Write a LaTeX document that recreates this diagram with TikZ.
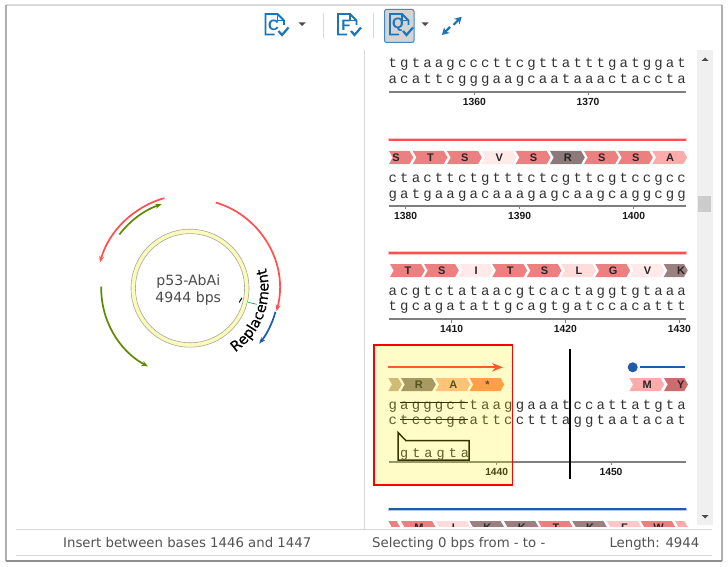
\documentclass[tikz,border=0pt]{standalone}
\usepackage{fontspec}
\setmainfont{DejaVu Sans}
\newfontfamily\dnafont[LetterSpace=22.5]{Liberation Mono}
\newfontfamily\dnafontB[LetterSpace=30]{Liberation Mono}
\newfontfamily\lblfont[BoldFont=Liberation Sans Bold]{Liberation Sans}
\newfontfamily\replfont[FakeBold=0.4]{DejaVu Sans}
\usetikzlibrary{arrows.meta,decorations.text}
\definecolor{icoblue}{HTML}{1B75BB}
\definecolor{rulegray}{HTML}{7F7F7F}
\definecolor{featred}{HTML}{FF4F4F}
\definecolor{featblue}{HTML}{1F5CA8}
\definecolor{featgreen}{HTML}{5F8A00}
\definecolor{featorange}{HTML}{FF5A28}
\definecolor{ringfill}{HTML}{FBFBB8}
\definecolor{aS}{HTML}{EC8080}
\definecolor{aV}{HTML}{FFE9E9}
\definecolor{aR}{HTML}{8C7A7A}
\definecolor{aA}{HTML}{FFABAB}
\definecolor{aL}{HTML}{FFDCDC}
\definecolor{aK}{HTML}{9C7F7F}
\definecolor{aF}{HTML}{FFC8C8}
\definecolor{aRy}{HTML}{90817D}
\definecolor{aAy}{HTML}{FFB79A}
\definecolor{aSt}{HTML}{FF8A5C}
\definecolor{aFi}{HTML}{C4AC95}
\definecolor{frametop}{HTML}{DADADA}
\definecolor{framedark}{HTML}{8E8E8E}
\definecolor{frameside}{HTML}{B0B0B0}
\definecolor{lineg}{HTML}{D8D8D8}
\tikzset{
  seqtext/.style={anchor=base west,inner sep=0pt,text=black!80,font=\dnafont\fontsize{14pt}{14pt}\selectfont},
  ticklbl/.style={inner sep=0pt,text=black!90,font=\lblfont\bfseries\fontsize{10.3pt}{10.3pt}\selectfont},
  aatext/.style={inner sep=0pt,text=black!85,font=\lblfont\bfseries\fontsize{11pt}{11pt}\selectfont},
  ruler/.style={draw=rulegray,line width=1.6pt},
  stat/.style={anchor=base west,inner sep=0pt,text=black!68,font=\fontsize{13.3pt}{13.3pt}\selectfont},
  feat/.style={line width=1.7pt,-{Stealth[length=6.5pt,width=5pt]}},
  icoline/.style={draw=icoblue,line width=1.8pt,line join=miter},
}
% x, top y, width, colour, letter
\newcommand\chev[5]{%
  \fill[#4] (#1,#2) -- ++(#3-3.7,0) -- ++(3.7,6.5) -- ++(-3.7,6.5) -- ++(-#3+3.7,0) -- ++(3.7,-6.5) -- cycle;
  \node[aatext] at (#1+#3/2+0.5,#2+6.7) {#5};}
\newcommand\rulerrow[1]{\draw[ruler] (389,#1) -- (685.5,#1);}
\newcommand\rtick[3]{\draw[rulegray,line width=0.8pt] (#1,#2) -- (#1,#2+3.5);
  \node[ticklbl] at (#1,#2+10) {#3};}
\newcommand\feature[2]{\draw[#1!35,line width=3.6pt] (388,#2) -- (686.5,#2);
  \draw[#1,line width=2pt] (389,#2) -- (685.5,#2);}
\newcommand\docicon[2]{%
  \draw[icoline] (#1+9,34.6) -- (#1,34.6) -- (#1,14) -- (#1+12,14) -- (#1+18.5,20.5) -- (#1+18.5,25);
  \draw[icoline,line width=1.2pt] (#1+12,14) -- (#1+12,20.5) -- (#1+18.5,20.5);
  \draw[icoline,line width=2.2pt] (#1+13,31) -- (#1+16.5,35) -- (#1+23,27.5);
  \node[inner sep=0pt,text=icoblue,font=\lblfont\bfseries\fontsize{15pt}{15pt}\selectfont] at (#1+8,25) {#2};}
\newcommand\caret[1]{\fill[black!70] (#1-3.5,22.5) -- (#1+3.5,22.5) -- (#1,26) -- cycle;}
\begin{document}
\begin{tikzpicture}[x=1pt,y=-1pt]
\useasboundingbox (0,0) rectangle (728,567);
\fill[white] (0,0) rectangle (728,567);
% window frame
\draw[frametop,line width=2pt] (6,5) -- (721.5,5);
\draw[frameside,line width=2pt] (6,5) -- (6,560.5);
\draw[frameside,line width=2pt] (721.5,5) -- (721.5,560.5);
\draw[framedark,line width=2pt] (6,560.8) -- (721.5,560.8);
\draw[lineg,line width=0.8pt] (16,529.3) -- (711.7,529.3);
\draw[lineg,line width=0.8pt] (16,555.3) -- (711.7,555.3);
\draw[lineg,line width=0.8pt] (364.3,50) -- (364.3,529.3);
% toolbar
\docicon{265.5}{C}
\caret{302}
\draw[lineg,line width=1pt] (323.3,13) -- (323.3,38);
\docicon{338}{F}
\draw[lineg,line width=1pt] (373.3,13) -- (373.3,38);
\draw[draw=icoblue!85,fill=black!17,line width=1pt,rounded corners=2pt] (384.5,9.5) rectangle (414,42.5);
\docicon{390}{Q}
\caret{425}
\draw[draw=icoblue,line width=2.2pt,-{Stealth[length=7pt,width=8pt]}] (453.5,24.8) -- (461.7,16.8);
\draw[draw=icoblue,line width=2.2pt,-{Stealth[length=7pt,width=8pt]}] (450,27) -- (442,35);
% scrollbar
\fill[black!6] (696.7,50) rectangle (712.7,525);
\fill[black!20] (698.3,195.7) rectangle (711,211.7);
\fill[black!70] (701.5,61) -- (708.5,61) -- (705,57.5) -- cycle;
\fill[black!70] (701.5,515) -- (708.5,515) -- (705,518.5) -- cycle;
% plasmid
\coordinate (pc) at (190,288.2);
\draw[black!35,fill=ringfill,line width=0.6pt] (pc) circle[radius=59pt];
\draw[black!35,fill=white,line width=0.6pt] (pc) circle[radius=54.6pt];
\node[inner sep=0pt,text=black!70,font=\fontsize{14.1pt}{14.1pt}\selectfont] (pname) at (188.3,281.5) {p53-AbAi};
\node[inner sep=0pt,text=black!70,font=\fontsize{14.1pt}{14.1pt}\selectfont] (psize) at (188.3,299) {4944 bps};
\draw[featred,feat] (pc) ++(73.2:89.5pt) arc[start angle=73.2,end angle=-14.9,radius=89.5pt];
\draw[featblue,feat] (pc) ++(-15.5:88.7pt) arc[start angle=-15.5,end angle=-38.7,radius=88.7pt];
\draw[featred,feat] (pc) ++(105.9:93.7pt) arc[start angle=105.9,end angle=164,radius=93.7pt];
\draw[featgreen,feat] (pc) ++(142.8:88.7pt) arc[start angle=142.8,end angle=108.6,radius=88.7pt];
\draw[featgreen,feat] (pc) ++(179:88.8pt) arc[start angle=179,end angle=241.8,radius=88.8pt];
\draw[black,line width=1pt] (239.3,302.4) -- (241.9,297.8);
\draw[teal!70!green,line width=0.7pt] (248.3,302.3) -- (256.7,304.3);
\path[decorate,decoration={text along path,text align=center,text={|\replfont\fontsize{14.4pt}{14.4pt}\selectfont|Replacement}}]
  (pc) ++(-76:78.5pt) arc[start angle=-76,end angle=36,radius=78.5pt];
% row 1
\node[seqtext] (r1a) at (388.5,67.7) {tgtaagcccttcgttatttgatggat};
\node[seqtext] (r1b) at (388.5,83.2) {acattcgggaagcaataaactaccta};
\rulerrow{92}
\rtick{474.3}{92}{1360}
\rtick{588}{92}{1370}
% row 2
\feature{featred}{139.7}
\chev{389}{151}{24.3}{aS}{}
\node[aatext] at (396,157.7) {S};
\chev{412.7}{151}{34.8}{aS}{T}
\chev{447}{151}{34.8}{aS}{S}
\chev{481.4}{151}{34.8}{aV}{V}
\chev{515.7}{151}{34.8}{aS}{S}
\chev{550}{151}{34.8}{aR}{R}
\chev{584}{151}{34.8}{aS}{S}
\chev{618}{151}{34.8}{aS}{S}
\chev{652.3}{151}{34.8}{aA}{A}
\node[seqtext] (r2a) at (388.5,182.3) {ctacttctgtttctcgttcgtccgcc};
\node[seqtext] (r2b) at (388.5,198) {gatgaagacaaagagcaagcaggcgg};
\rulerrow{205.7}
\rtick{405.7}{205.7}{1380}
\rtick{519.7}{205.7}{1390}
\rtick{633.7}{205.7}{1400}
% row 3
\feature{featred}{253}
\chev{390}{264}{34.8}{aS}{T}
\chev{424}{264}{34.8}{aS}{S}
\chev{458.3}{264}{34.8}{aV}{I}
\chev{492.3}{264}{34.8}{aS}{T}
\chev{526.7}{264}{34.8}{aS}{S}
\chev{561}{264}{34.8}{aL}{L}
\chev{595.3}{264}{34.8}{aS}{G}
\chev{629.7}{264}{34.8}{aV}{V}
\chev{663.7}{264}{24}{aK}{}
\node[aatext] at (681,270.7) {K};
\node[seqtext] (r3a) at (388.5,295) {acgtctataacgtcactaggtgtaaa};
\node[seqtext] (r3b) at (388.5,310) {tgcagatattgcagtgatccacattt};
\rulerrow{319}
\rtick{451.7}{319}{1410}
\rtick{565.3}{319}{1420}
\rtick{679.3}{319}{1430}
% row 4
\fill[featblue] (632.7,367.3) circle[radius=5pt];
\draw[featblue,line width=2pt] (640,367.3) -- (685,367.3);
\chev{388.3}{378}{13.5}{aFi}{}
\chev{401}{378}{34.8}{aRy}{R}
\chev{435.5}{378}{34.8}{aAy}{A}
\chev{469.5}{378}{34.8}{aSt}{*}
\chev{629.3}{378}{34.8}{aA}{M}
\chev{664}{378}{24}{aS!85!black}{}
\node[aatext] at (680.7,384.7) {Y};
\node[seqtext] (r4a) at (388.5,409) {gagggcttaaggaaatccattatgta};
\node[seqtext] (r4b) at (388.5,424) {ctcccgaattcctttaggtaatacat};
\draw[black,line width=1.3pt] (400,402.7) -- (468.3,402.7);
\draw[black,line width=1.3pt] (400,419.3) -- (468.3,419.3);
\rulerrow{461.7}
\rtick{496.7}{461.7}{1440}
\rtick{611}{461.7}{1450}
% insertion flag
\draw[black,line width=1.5pt,line join=miter] (398,432.5) -- (406,440.7) -- (469,440.7) -- (469,460.2) -- (398,460.2) -- cycle;
\node[anchor=base west,inner sep=0pt,text=black!80,font=\dnafontB\fontsize{13.5pt}{13.5pt}\selectfont] (ins) at (400,457) {gtagta};
% yellow selection
\fill[yellow,opacity=0.216] (373.7,344.7) rectangle (512.3,485);
\draw[red,line width=1.6pt] (373.7,344.7) rectangle (512.3,485);
\coordinate (oa) at (388.3,367.3);
\coordinate (ob) at (503,367.3);
\draw[draw=featorange,line width=1.7pt,-{Stealth[length=11pt,width=8.5pt]}] (oa) -- (ob);
\draw[black,line width=2pt] (570,348.7) -- (570,478.7);
% row 5
\feature{featblue}{509.3}
\begin{scope}
\clip (380,515) rectangle (690,526.6);
\chev{388.3}{521}{12}{aS}{}
\chev{401}{521}{34.8}{aS}{M}
\chev{435.5}{521}{34.8}{aL}{I}
\chev{469.5}{521}{34.8}{aK}{K}
\chev{504}{521}{34.8}{aK}{K}
\chev{538}{521}{34.8}{aS}{T}
\chev{572.3}{521}{34.8}{aK}{K}
\chev{606.7}{521}{34.8}{aF}{F}
\chev{640.7}{521}{34.8}{aS}{W}
\chev{675}{521}{13}{aA}{}
\end{scope}
% status bar
\node[stat] (s1) at (63,547) {Insert between bases 1446 and 1447};
\node[stat] (s2) at (372,547) {Selecting 0 bps from - to -};
\node[stat] (s3) at (609.3,547) {Length: 4944};
\end{tikzpicture}
\end{document}
